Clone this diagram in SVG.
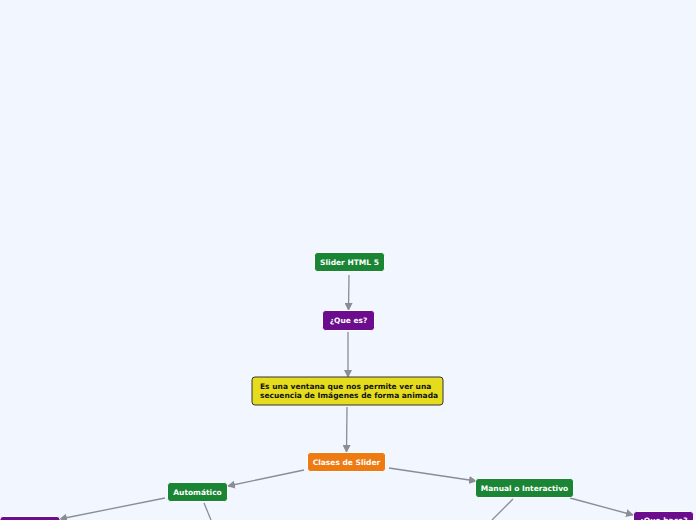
<svg xmlns="http://www.w3.org/2000/svg" width="696" height="520" viewBox="0 0 696 520">
<style>
.n{stroke:#fff;stroke-width:1}
.t{font-family:"DejaVu Sans",sans-serif;font-size:7.5px;font-weight:bold;fill:#fff;text-anchor:middle}
.c{stroke:#8a8d94;stroke-width:1.3;fill:none;marker-end:url(#a)}
.l{stroke:#8a8d94;stroke-width:1.3;fill:none}
</style>
<defs><marker id="a" markerWidth="8" markerHeight="8" refX="7" refY="4" orient="auto" markerUnits="userSpaceOnUse"><path d="M0,0L8,4L0,8z" fill="#8a8d94"/></marker></defs>
<rect width="696" height="520" fill="#f2f6fe"/>
<g id="connectors">
<path class="c" d="M349,275L348.5,310"/>
<path class="c" d="M348,332L348,377"/>
<path class="c" d="M347,407L346.5,452"/>
<path class="c" d="M304,470L228,486"/>
<path class="c" d="M389,468L476,481"/>
<path class="c" d="M165,498L60,519"/>
<path class="l" d="M204,503L211,520"/>
<path class="c" d="M570,498L633,515"/>
<path class="l" d="M513,499L492,520"/>
</g>
<g id="n1"><rect class="n" x="314.5" y="252.5" width="70" height="19" rx="3" fill="#1a8534"/><text class="t" x="349.5" y="265">Slider HTML 5</text></g>
<g id="n2"><rect class="n" x="322.5" y="310.5" width="52" height="20" rx="3" fill="#6b0d8c"/><text class="t" x="348.5" y="323">¿Que es?</text></g>
<g id="n3"><rect x="252" y="377" width="191" height="28" rx="3" fill="#e6dc1e" stroke="#333" stroke-width="1"/><text class="t" x="260" y="388.5" style="fill:#111;text-anchor:start">Es una ventana que nos permite ver una</text><text class="t" x="260" y="398" style="fill:#111;text-anchor:start">secuencia de Imágenes de forma animada</text></g>
<g id="n4"><rect class="n" x="307.5" y="452.5" width="78" height="19" rx="3" fill="#ee7a12"/><text class="t" x="346.5" y="464.5">Clases de Slider</text></g>
<g id="n5"><rect class="n" x="167.5" y="482.5" width="60" height="19" rx="3" fill="#1a8534"/><text class="t" x="197.5" y="494.5">Automático</text></g>
<g id="n6"><rect class="n" x="475.5" y="478.5" width="98" height="19" rx="3" fill="#1a8534"/><text class="t" x="524.5" y="490.5">Manual o Interactivo</text></g>
<g id="n7"><rect class="n" x="0" y="516.5" width="60" height="19" rx="3" fill="#6b0d8c"/></g>
<g id="n8"><rect class="n" x="633.5" y="511.5" width="60" height="19" rx="3" fill="#6b0d8c"/><text class="t" x="663.5" y="523">¿Que hace?</text></g>
</svg>
